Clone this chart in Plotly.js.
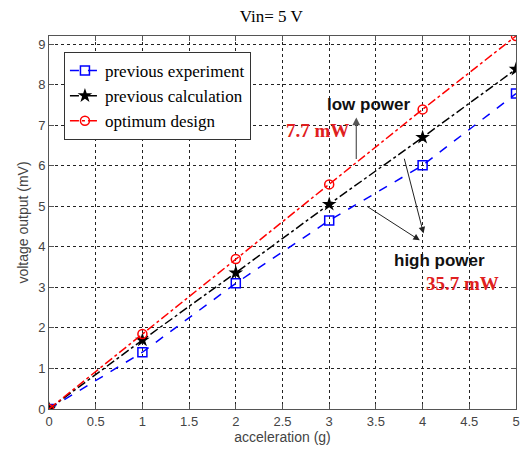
<!DOCTYPE html>
<html><head><meta charset="utf-8">
<script src="https://cdn.plot.ly/plotly-3.0.1.min.js"></script>
<style>body{margin:0;background:#fff}#c{width:532px;height:453px}</style>
</head><body><div id="c"></div>
<script>
const accel = [0, 1, 2, 3, 4, 5];
const prevExperiment = [0, 1.40, 3.10, 4.65, 6.01, 7.78];
const prevCalculation = [0, 1.70, 3.36, 5.05, 6.70, 8.38];
const optimumDesign = [0, 1.85, 3.70, 5.54, 7.39, 9.20];
const seriesNames = ['previous experiment', 'previous calculation', 'optimum design'];

const traces = [
  {x: accel, y: prevExperiment, name: seriesNames[0], mode: 'lines+markers',
   line: {color: '#0000ff', dash: 'dash', width: 1.5},
   marker: {symbol: 'square-open', size: 9, color: '#0000ff', line: {width: 1.5}}},
  {x: accel, y: prevCalculation, name: seriesNames[1], mode: 'lines+markers',
   line: {color: '#000000', dash: 'dashdot', width: 1.5},
   marker: {symbol: 'star', size: 11, color: '#000000'}},
  {x: accel, y: optimumDesign, name: seriesNames[2], mode: 'lines+markers',
   line: {color: '#ff0000', dash: 'dashdot', width: 1.5},
   marker: {symbol: 'circle-open', size: 9, color: '#ff0000', line: {width: 1.5}}}
];

const axisCommon = {
  showline: true, mirror: 'ticks', linecolor: '#555', linewidth: 1,
  ticks: 'inside', ticklen: 5, tickcolor: '#555',
  showgrid: true, gridcolor: '#222', griddash: 'dot', gridwidth: 1,
  zeroline: false,
  tickfont: {family: 'Liberation Sans, Arial', size: 13, color: '#444'}
};

const layout = {
  width: 532, height: 453,
  margin: {l: 49, r: 16, t: 36, b: 44},
  paper_bgcolor: '#fff', plot_bgcolor: '#fff',
  showlegend: true,
  title: {text: 'Vin= 5 V', x: 0.51, xanchor: 'center', y: 0.965, yanchor: 'middle',
          font: {family: 'Liberation Serif, Times New Roman', size: 17, color: '#000'}},
  xaxis: Object.assign({}, axisCommon, {range: [0, 5], dtick: 0.5,
    title: {text: 'acceleration (g)', standoff: 4,
            font: {family: 'Liberation Sans, Arial', size: 14, color: '#444'}}}),
  yaxis: Object.assign({}, axisCommon, {range: [0, 9.2], dtick: 1,
    title: {text: 'voltage output (mV)', standoff: 6,
            font: {family: 'Liberation Sans, Arial', size: 14, color: '#444'}}}),
  legend: {x: 0.032, y: 0.957, xanchor: 'left', yanchor: 'top',
    bgcolor: '#fff', bordercolor: '#333', borderwidth: 1,
    font: {family: 'Liberation Serif, Times New Roman', size: 17, color: '#000'},
    tracegroupgap: 0, itemwidth: 30},
  annotations: [
    {x: 3.43, y: 7.51, xref: 'x', yref: 'y', text: '<b>low power</b>', showarrow: false,
     font: {family: 'Liberation Sans, Arial', size: 17, color: '#111'}},
    {x: 2.87, y: 6.87, xref: 'x', yref: 'y', text: '<b>7.7 mW</b>', showarrow: false,
     font: {family: 'Liberation Serif, Times New Roman', size: 19, color: '#e02020'}},
    {x: 3.29, y: 7.19, xref: 'x', yref: 'y', ax: 3.29, ay: 6.13, axref: 'x', ayref: 'y',
     text: '', showarrow: true, arrowhead: 2, arrowsize: 1.3, arrowwidth: 1.2, arrowcolor: '#555'},
    {x: 4.01, y: 4.33, xref: 'x', yref: 'y', ax: 3.80, ay: 6.21, axref: 'x', ayref: 'y',
     text: '', showarrow: true, arrowhead: 2, arrowsize: 1.3, arrowwidth: 1, arrowcolor: '#222'},
    {x: 3.97, y: 4.16, xref: 'x', yref: 'y', ax: 3.39, ay: 5.02, axref: 'x', ayref: 'y',
     text: '', showarrow: true, arrowhead: 2, arrowsize: 1.3, arrowwidth: 1, arrowcolor: '#222'},
    {x: 4.18, y: 3.67, xref: 'x', yref: 'y', text: '<b>high power</b>', showarrow: false,
     font: {family: 'Liberation Sans, Arial', size: 17, color: '#111'}},
    {x: 4.43, y: 3.1, xref: 'x', yref: 'y', text: '<b>35.7 mW</b>', showarrow: false,
     font: {family: 'Liberation Serif, Times New Roman', size: 19, color: '#e02020'}}
  ]
};

Plotly.newPlot('c', traces, layout, {displayModeBar: false, staticPlot: true});
</script>
</body></html>
